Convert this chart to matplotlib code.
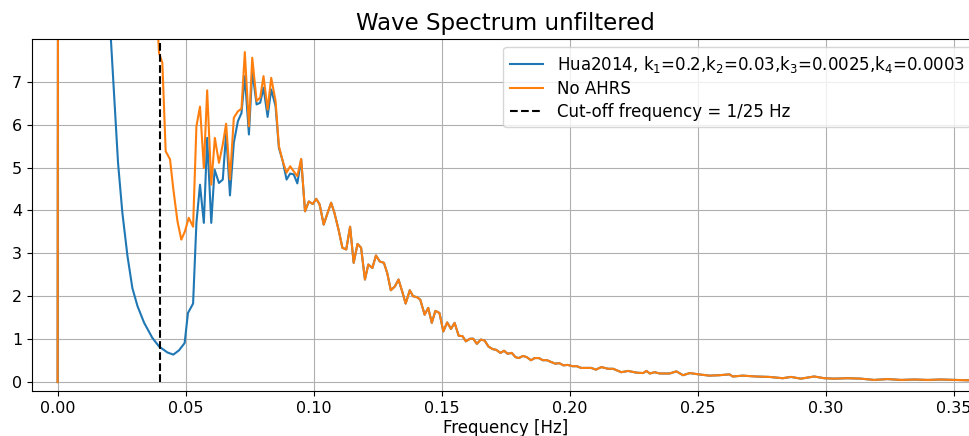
#!/usr/bin/env python
# plot wave spectrum (unfiltered), Hua2014 vs no AHRS

import numpy as np
import matplotlib
matplotlib.use('Agg')
import matplotlib.pyplot as plt

# low frequency part, Hua2014 filter (blue)
freq_hua = [0.0, 0.001, 0.005, 0.01, 0.015, 0.019, 0.0208, 0.0221, 0.0236, 0.0253,
            0.0273, 0.0292, 0.0312, 0.0338, 0.037, 0.0396, 0.0429, 0.0452, 0.0474, 0.0496,
            0.0509, 0.0529, 0.0542, 0.0556, 0.0571, 0.0584, 0.06, 0.0613, 0.063, 0.0645,
            0.0658, 0.0673, 0.0688, 0.0704, 0.0718, 0.0731, 0.0747, 0.076, 0.0777, 0.0791,
            0.0804, 0.082, 0.0834, 0.0851, 0.0864, 0.0879, 0.0894, 0.0908, 0.0922, 0.0936,
            0.0951]
spec_hua = [0.0, 60.0, 40.0, 25.0, 15.0, 9.6, 8.0, 6.66, 5.11, 3.94,
            2.93, 2.19, 1.77, 1.38, 1.03, 0.83, 0.69, 0.64, 0.74, 0.91,
            1.61, 1.83, 3.71, 4.60, 3.71, 5.69, 3.71, 4.95, 4.64, 4.72,
            5.81, 4.35, 5.58, 6.08, 6.27, 7.13, 5.77, 7.25, 6.47, 6.51,
            6.86, 6.18, 6.82, 6.43, 5.46, 5.15, 4.72, 4.86, 4.84, 4.63,
            5.19]

# low frequency part, no AHRS (orange)
freq_noahrs = [0.0, 0.001, 0.01, 0.02, 0.03, 0.038, 0.0396, 0.0409, 0.0422, 0.0439,
               0.0452, 0.0468, 0.0483, 0.0497, 0.0512, 0.0529, 0.0542, 0.0556, 0.0571, 0.0584,
               0.06, 0.0614, 0.063, 0.0645, 0.0658, 0.0673, 0.0688, 0.0704, 0.0718, 0.0731,
               0.0747, 0.076, 0.0777, 0.0791, 0.0804, 0.082, 0.0834, 0.0851, 0.0864, 0.0879,
               0.0894, 0.0908, 0.0922, 0.0936, 0.0951]
spec_noahrs = [0.0, 60.0, 35.0, 20.0, 14.0, 9.5, 7.67, 7.44, 5.38, 5.19,
               4.49, 3.75, 3.32, 3.51, 3.83, 3.62, 5.96, 6.42, 4.99, 6.80,
               4.60, 5.69, 5.11, 5.54, 6.02, 4.72, 6.16, 6.31, 6.37, 7.69,
               5.96, 7.56, 6.55, 6.63, 7.13, 6.35, 7.09, 6.55, 5.50, 5.15,
               4.88, 5.03, 4.91, 4.80, 5.20]

# higher frequencies, both curves are almost the same
freq_tail = [0.0966, 0.0981, 0.0996, 0.101, 0.1023, 0.1039, 0.1054, 0.1068, 0.1081, 0.1097,
             0.1112, 0.1127, 0.1142, 0.1156, 0.1171, 0.1185, 0.12, 0.1213, 0.1229, 0.1243,
             0.1258, 0.1274, 0.1287, 0.1301, 0.1317, 0.1331, 0.1345, 0.1359, 0.1375, 0.1388,
             0.1403, 0.1416, 0.1433, 0.1447, 0.1461, 0.1475, 0.1491, 0.1506, 0.1521, 0.1536,
             0.155, 0.1566, 0.1581, 0.1594, 0.161, 0.1623, 0.1637, 0.1652, 0.1667, 0.1682,
             0.1698, 0.1713, 0.1729, 0.1743, 0.1757, 0.1773, 0.1788, 0.1801, 0.1817, 0.1832,
             0.1848, 0.1863, 0.1879, 0.1894, 0.1911, 0.1926, 0.1943, 0.1959, 0.1975, 0.1992,
             0.201, 0.2027, 0.2044, 0.2062, 0.2083, 0.2102, 0.2123, 0.2149, 0.2169, 0.2201,
             0.2227, 0.226, 0.2286, 0.2299, 0.2312, 0.2331, 0.2351, 0.239, 0.2416, 0.2442,
             0.2468, 0.2503, 0.2545, 0.2584, 0.2623, 0.2636, 0.2675, 0.2727, 0.2779, 0.2831,
             0.2863, 0.2902, 0.2954, 0.2993, 0.3032, 0.3084, 0.3136, 0.3188, 0.324, 0.3293,
             0.3345, 0.3397, 0.3449, 0.35, 0.3553, 0.36, 0.37]
spec_tail = [3.98, 4.21, 4.15, 4.27, 4.14, 3.67, 3.94, 4.18, 3.94, 3.55,
             3.13, 3.09, 3.62, 2.78, 3.22, 3.13, 2.39, 2.74, 2.66, 2.95,
             2.81, 2.78, 2.54, 2.14, 2.23, 2.39, 2.12, 1.83, 2.14, 2.00,
             1.98, 1.92, 1.57, 1.73, 1.38, 1.66, 1.61, 1.18, 1.39, 1.24,
             1.38, 1.08, 1.07, 0.95, 1.01, 1.01, 0.89, 0.99, 0.97, 0.83,
             0.77, 0.75, 0.68, 0.73, 0.66, 0.68, 0.58, 0.56, 0.61, 0.58,
             0.51, 0.56, 0.56, 0.51, 0.51, 0.47, 0.43, 0.44, 0.39, 0.40,
             0.37, 0.37, 0.33, 0.33, 0.33, 0.29, 0.35, 0.31, 0.31, 0.23,
             0.26, 0.22, 0.21, 0.26, 0.20, 0.23, 0.20, 0.20, 0.25, 0.16,
             0.21, 0.18, 0.15, 0.16, 0.18, 0.13, 0.15, 0.13, 0.12, 0.09,
             0.12, 0.08, 0.13, 0.09, 0.08, 0.09, 0.08, 0.05, 0.07, 0.05,
             0.06, 0.05, 0.06, 0.05, 0.04, 0.04, 0.04]

f_cut = 1.0 / 25   # cut-off frequency

label_hua = 'Hua2014, k$_1$=0.2,k$_2$=0.03,k$_3$=0.0025,k$_4$=0.0003'
label_noahrs = 'No AHRS'
label_cut = 'Cut-off frequency = 1/25 Hz'


def main():
    f1 = np.array(freq_hua + freq_tail)
    s1 = np.array(spec_hua + spec_tail)
    f2 = np.array(freq_noahrs + freq_tail)
    s2 = np.array(spec_noahrs + spec_tail)

    fig = plt.figure(figsize=(9.69, 4.36), dpi=100)
    # axes is a bit wider than the figure (right side cut off like the original)
    ax = fig.add_axes([0.033, 0.103, 0.978, 0.808])

    ax.plot(f1, s1, color='tab:blue', lw=1.5, label=label_hua)
    ax.plot(f2, s2, color='tab:orange', lw=1.5, label=label_noahrs)
    ax.vlines(f_cut, 0, max(spec_noahrs), colors='k', linestyles='--', lw=1.5, label=label_cut)

    ax.set_xlim(-0.01, 0.36)
    ax.set_ylim(-0.21, 8.0)
    ax.set_xticks(np.arange(0, 0.351, 0.05))
    ax.set_yticks(range(0, 8))
    ax.tick_params(labelsize=11.5)
    ax.grid(True)

    ax.set_xlabel('Frequency [Hz]', fontsize=12, labelpad=2)
    ax.set_title('Wave Spectrum unfiltered', fontsize=16.5)
    ax.legend(loc='upper right', fontsize=12, labelspacing=0.3)

    fig.savefig('out.png', dpi=100)


if __name__ == "__main__":
    main()
